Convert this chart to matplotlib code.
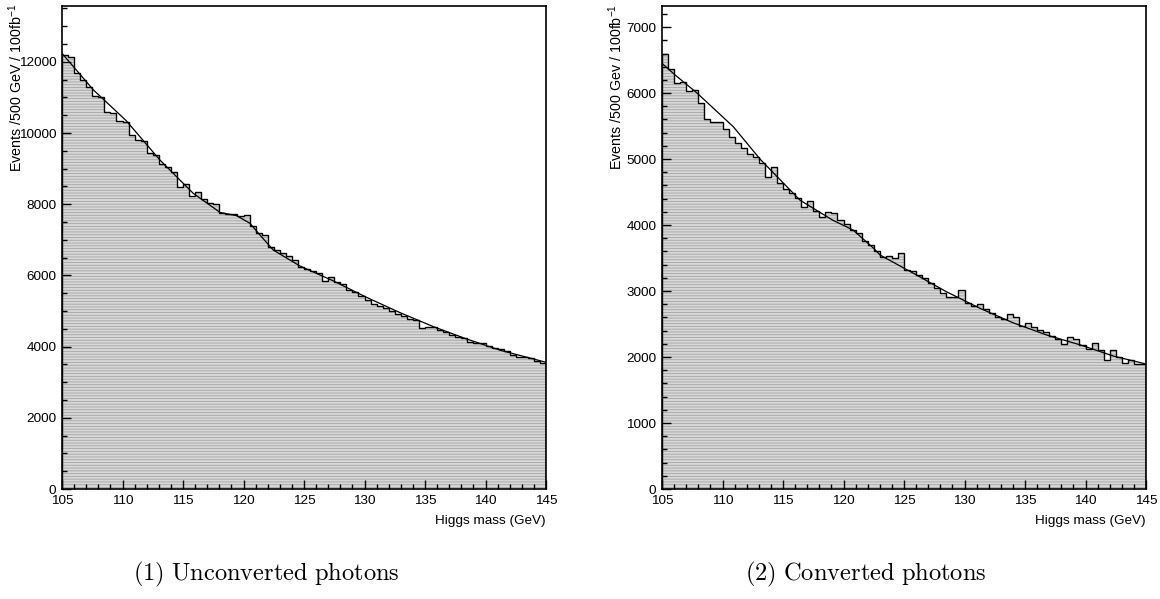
import numpy as np
import matplotlib
matplotlib.use("Agg")
import matplotlib.pyplot as plt
from matplotlib.ticker import MultipleLocator

plt.rcParams['font.family'] = ['Liberation Sans', 'DejaVu Sans']
plt.rcParams['mathtext.fontset'] = 'custom'
plt.rcParams['mathtext.rm'] = 'Liberation Sans'
plt.rcParams['mathtext.it'] = 'Liberation Sans:italic'
plt.rcParams['mathtext.default'] = 'rm'
plt.rcParams['hatch.linewidth'] = 0.6

# ---------------- data ----------------
mass_low = 105.0
mass_high = 145.0
bin_width = 0.5

unconverted_counts = [
    12190, 12126, 11676, 11489, 11283, 11039, 11002, 10600, 10553, 10337,
    10318, 9944, 9803, 9775, 9429, 9382, 9120, 9036, 8914, 8474,
    8558, 8240, 8333, 8146, 8024, 8006, 7744, 7716, 7725, 7669,
    7697, 7397, 7182, 7135, 6807, 6720, 6620, 6560, 6420, 6246,
    6171, 6134, 6058, 5852, 5965, 5824, 5758, 5590, 5543, 5421,
    5309, 5197, 5141, 5075, 5000, 4916, 4860, 4766, 4747, 4513,
    4541, 4541, 4466, 4419, 4326, 4279, 4232, 4138, 4110, 4110,
    4017, 3951, 3933, 3886, 3764, 3717, 3699, 3680, 3596, 3549,
]

converted_counts = [
    6590, 6358, 6146, 6171, 6035, 6045, 5843, 5601, 5565, 5565,
    5449, 5338, 5247, 5161, 5075, 5035, 4934, 4722, 4873, 4641,
    4540, 4479, 4403, 4267, 4368, 4217, 4126, 4191, 4176, 4075,
    4015, 3924, 3873, 3762, 3697, 3600, 3510, 3530, 3495, 3570,
    3318, 3308, 3242, 3192, 3116, 3040, 2964, 2914, 2914, 3015,
    2813, 2772, 2803, 2722, 2671, 2611, 2570, 2651, 2611, 2469,
    2510, 2449, 2409, 2384, 2318, 2267, 2197, 2298, 2267, 2182,
    2116, 2217, 2106, 1954, 2106, 1995, 1914, 1954, 1894, 1894,
]

unconv_fit_mass = [105.0, 107.6, 110.3, 113.1, 115.85, 118.06, 119.44, 120.54,
                   121.36, 122.46, 124.67, 127.4, 130.2, 132.9, 135.7, 138.4, 141.2, 145.0]
unconv_fit_vals = [12240, 11210, 10350, 9240, 8305, 7772, 7678, 7463,
                   7135, 6713, 6264, 5850, 5380, 4960, 4560, 4220, 3900, 3560]

conv_fit_mass = [105.0, 106.1, 107.9, 110.9, 113.1, 116.4, 119.1, 120.8,
                 122.5, 123.03, 125.8, 128.5, 131.3, 134.0, 136.8, 139.6, 142.3, 145.0]
conv_fit_vals = [6450, 6272, 6000, 5489, 5000, 4378, 4075, 3924,
                 3646, 3545, 3267, 2990, 2737, 2520, 2333, 2182, 2015, 1894]

ylabels = ['Events /500 GeV / 100fb$^{-1}$', 'Events /500 Gev / 100fb$^{-1}$']
xlabel = 'Higgs mass (GeV)'
captions = [r'$\mathrm{(1)\ Unconverted\ photons}$', r'$\mathrm{(2)\ Converted\ photons}$']
ymaxes = [13570, 7320]
ymajor = [2000, 1000]
yminor = [500, 200]

# ---------------- figure ----------------
W, H = 1160, 599
fig = plt.figure(figsize=(W / 100, H / 100), dpi=100)

panels = [
    (unconverted_counts, unconv_fit_mass, unconv_fit_vals),
    (converted_counts, conv_fit_mass, conv_fit_vals),
]
ax_left_px = [62, 662]
ax_w_px = 484
ax_top_px = 6
ax_bot_px = 489
caption_cx = [266, 866]

edges = mass_low + bin_width * np.arange(len(unconverted_counts) + 1)

for i, (counts, fm, fv) in enumerate(panels):
    ax = fig.add_axes([ax_left_px[i] / W, 1 - ax_bot_px / H,
                       ax_w_px / W, (ax_bot_px - ax_top_px) / H])
    ax.stairs(counts, edges, fill=True, facecolor='#d8d8d8',
              edgecolor='#a4a4a4', linewidth=0, hatch='------')
    ax.stairs(counts, edges, color='black', linewidth=1.0)
    ax.plot(fm, fv, color='black', linewidth=0.9)

    ax.set_xlim(mass_low, mass_high)
    ax.set_ylim(0, ymaxes[i])
    ax.xaxis.set_major_locator(MultipleLocator(5))
    ax.xaxis.set_minor_locator(MultipleLocator(1))
    ax.yaxis.set_major_locator(MultipleLocator(ymajor[i]))
    ax.yaxis.set_minor_locator(MultipleLocator(yminor[i]))
    ax.tick_params(which='both', direction='in', top=False, right=False,
                   labelsize=9.7, width=1.0, color='black')
    ax.tick_params(which='major', length=6.5)
    ax.tick_params(which='minor', length=3.6)
    ax.tick_params(axis='x', pad=4)
    ax.tick_params(axis='y', pad=4)
    for s in ax.spines.values():
        s.set_linewidth(1.2)

    ax.text(1.0, -0.054, xlabel, transform=ax.transAxes, ha='right', va='top',
            fontsize=9.7)
    fig.text((ax_left_px[i] - 46) / W, 1 - 4 / H, ylabels[i], rotation=90,
             ha='center', va='top', fontsize=10.3)
    fig.text(caption_cx[i] / W, 1 - 574 / H, captions[i],
             ha='center', va='center', fontsize=17.6, math_fontfamily='cm')

fig.savefig('out.png', dpi=100)
